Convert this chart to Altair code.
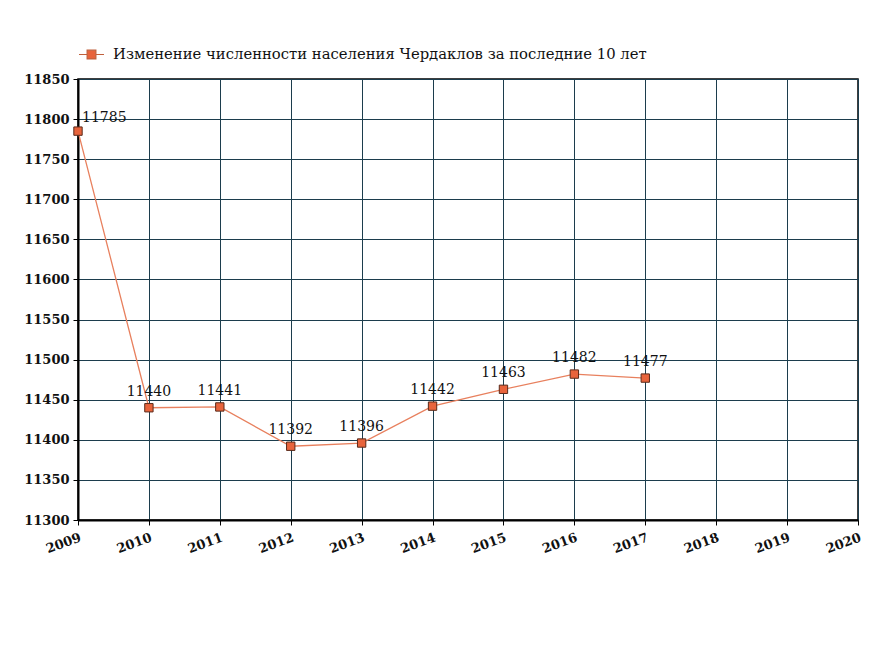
import altair as alt
import pandas as pd

years = [2009, 2010, 2011, 2012, 2013, 2014, 2015, 2016, 2017]
population = [11785, 11440, 11441, 11392, 11396, 11442, 11463, 11482, 11477]
series_name = "Изменение численности населения Чердаклов за последние 10 лет"
x_ticks = list(range(2009, 2021))
y_ticks = list(range(11300, 11851, 50))

df = pd.DataFrame({"year": years, "pop": population, "series": series_name})
df["first"] = df["year"] == 2009

FONT = "DejaVu Serif"
GRID = "#1c3d4d"

x = alt.X("year:Q", scale=alt.Scale(domain=[2009, 2020], nice=False, zero=False),
          axis=alt.Axis(values=x_ticks, format="d", title=None, labelAngle=-20,
                        labelAlign="right", labelBaseline="top", labelPadding=6,
                        labelFont=FONT, labelFontSize=13, labelFontWeight="bold",
                        labelColor="#111", tickColor="black", tickSize=5,
                        domainColor="black", domainWidth=2,
                        gridColor=GRID, gridWidth=1, labelOverlap=False, labelFlush=False))
y = alt.Y("pop:Q", scale=alt.Scale(domain=[11300, 11850], nice=False, zero=False),
          axis=alt.Axis(values=y_ticks, format="d", title=None, labelFont=FONT, labelFontSize=13,
                        labelFontWeight="bold", labelColor="#111", tickColor="black",
                        tickSize=5, labelPadding=4, domainColor="black", domainWidth=2,
                        gridColor=GRID, gridWidth=1, labelFlush=False, labelOverlap=False))

legend_path = "M-1,0L-0.35,0M0.35,0L1,0M-0.35,-0.35L0.35,-0.35L0.35,0.35L-0.35,0.35Z"

line = alt.Chart(df).mark_line(color="#e8805e", strokeWidth=1.3).encode(x=x, y=y)
points = alt.Chart(df).mark_point(shape="square", filled=True, size=70, opacity=1,
                                  strokeWidth=1, stroke="#5a2a1a").encode(
    x=x, y=y,
    fill=alt.Fill("series:N", scale=alt.Scale(range=["#e8643c"]),
                  legend=alt.Legend(title=None, orient="none", legendX=0, legendY=-38,
                                    symbolType=legend_path, symbolSize=625,
                                    symbolStrokeColor="#c0603c", symbolStrokeWidth=1.2,
                                    symbolFillColor="#e8643c",
                                    labelFont=FONT, labelFontSize=14.8, labelColor="#111",
                                    labelLimit=800, labelOffset=8)))
labels = alt.Chart(df[~df["first"]]).mark_text(font=FONT, fontSize=14, color="#111",
                                              baseline="alphabetic", dy=-12).encode(
    x=x, y=y, text=alt.Text("pop:Q", format="d"))
label_first = alt.Chart(df[df["first"]]).mark_text(font=FONT, fontSize=14, color="#111",
                                                  align="left", baseline="alphabetic",
                                                  dx=4, dy=-9).encode(
    x=x, y=y, text=alt.Text("pop:Q", format="d"))

chart = alt.layer(line, points, labels, label_first).properties(
    width=780, height=441,
    padding={"left": 78, "top": 79, "right": 26, "bottom": 130},
    autosize=alt.AutoSizeParams(type="none"),
    background="white",
).configure_view(stroke="black", strokeWidth=1.5)

chart.save("out.html", embed_options={"renderer": "svg", "actions": False})
